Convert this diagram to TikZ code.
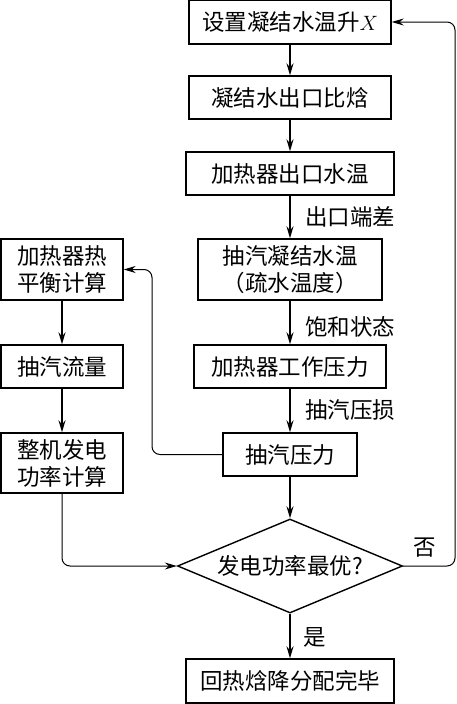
\documentclass[tikz,border=0pt]{standalone}
\usepackage{fontspec}
\setmainfont{Noto Sans CJK SC}
\usetikzlibrary{arrows.meta,shapes.geometric}
\newcommand{\cnsize}{\fontsize{22.5}{27}\selectfont}
\tikzset{
  procbox/.style={rectangle, draw, line width=1.4pt, align=center, font=\cnsize,
                  inner sep=0pt, minimum height=43pt},
  judge/.style={diamond, draw, line width=1.4pt, font=\cnsize, inner sep=0pt,
                aspect=2.4, minimum width=225pt, minimum height=94pt},
  arr/.style={-{Stealth[length=12pt,width=7pt,inset=4pt]}, line width=1.6pt},
  back/.style={-{Stealth[length=12pt,width=7pt,inset=4pt]}, line width=1pt, rounded corners=8pt},
  lbl/.style={anchor=west, font=\cnsize, inner sep=0pt},
}
\begin{document}
\begin{tikzpicture}[x=1pt,y=-1pt]
  \useasboundingbox (0,0) rectangle (456,704);
  % main chain
  \node[procbox, minimum width=202pt, minimum height=44pt] (setx) at (290,22) {设置凝结水温升$X$};
  \node[procbox, minimum width=202pt] (hout) at (290,97.5) {凝结水出口比焓};
  \node[procbox, minimum width=208pt] (tout) at (290,173.5) {加热器出口水温};
  \node[procbox, minimum width=184pt, minimum height=61pt] (tdrain) at (290,269.5) {抽汽凝结水温\\（疏水温度）};
  \node[procbox, minimum width=192pt] (pwork) at (290,366.5) {加热器工作压力};
  \node[procbox, minimum width=134pt] (pext) at (290,454.5) {抽汽压力};
  \node[judge] (dec) at (290,566) {发电功率最优?};
  \node[procbox, minimum width=208pt, minimum height=44pt] (done) at (290,681) {回热焓降分配完毕};
  % left chain
  \node[procbox, minimum width=122pt, minimum height=61pt] (heat) at (62,269.5) {加热器热\\平衡计算};
  \node[procbox, minimum width=122pt] (flow) at (62,366.5) {抽汽流量};
  \node[procbox, minimum width=122pt, minimum height=60pt] (power) at (62,463) {整机发电\\功率计算};

  \draw[arr] (setx) -- (hout);
  \draw[arr] (hout) -- (tout);
  \draw[arr] (tout) -- (tdrain);
  \draw[arr] (tdrain) -- (pwork);
  \draw[arr] (pwork) -- (pext);
  \draw[arr] (pext) -- (dec);
  \draw[arr] (dec) -- (done);
  \node[lbl] (dt) at (305,217) {出口端差};
  \node[lbl] (sat) at (305,327) {饱和状态};
  \node[lbl] (dp) at (305,410) {抽汽压损};
  \node[lbl] (yes) at (303,637) {是};

  \draw[arr] (heat) -- (flow);
  \draw[arr] (flow) -- (power);

  % loops
  \coordinate (pturn) at (152,360);
  \coordinate (noturn) at (455,300);
  \draw[back] (pext.west) -| (pturn) |- (heat.east);
  \draw[back] (power.south) |- (dec.west);
  \draw[back] (dec.east) -| (noturn) |- (setx.east);
  \node[font=\cnsize, inner sep=0pt] (no) at (425,548) {否};
\end{tikzpicture}
\end{document}
